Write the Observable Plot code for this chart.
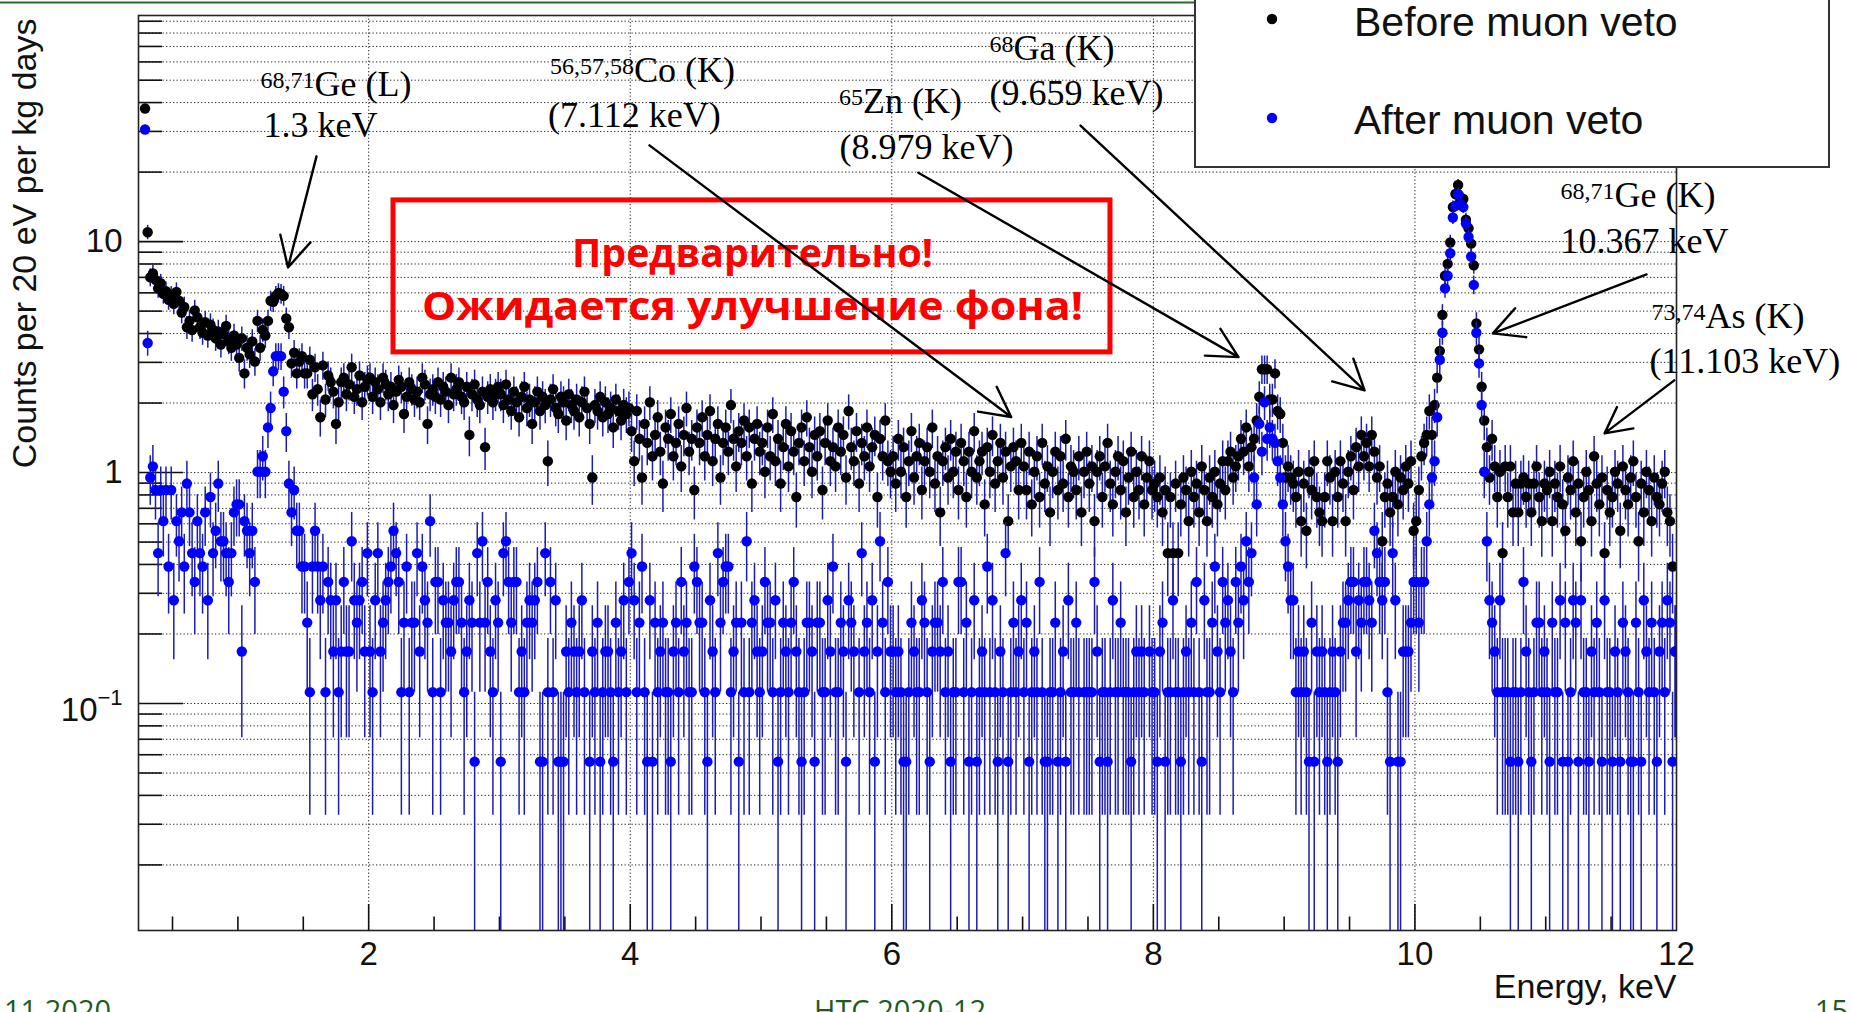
<!DOCTYPE html>
<html><head><meta charset="utf-8">
<script src="https://cdn.jsdelivr.net/npm/d3@7"></script>
<script src="https://cdn.jsdelivr.net/npm/@observablehq/plot@0.6"></script>
<style>
html,body{margin:0;padding:0;background:#fff;}
body{width:1852px;height:1012px;overflow:hidden;position:relative;}
#chart{position:absolute;left:0;top:0;}
#overlay{position:absolute;left:0;top:0;}
</style></head><body>
<div id="chart"></div>
<svg id="overlay" width="1852" height="1012"></svg>
<script>
// ---------- data: counts per 20 eV bin (histogram starts at 0.28 keV) ----------
const binStart = 0.28, binWidth = 0.02;
const countsToRate = 0.056; // one count -> counts per 20 eV per kg day

const black_0_1 = [673,196,125,130,122,112,118,106,109,100,104,96,108,99,88,93,76,81,74,90,84,76,72,80,70,78,74,68,73,64,71,77,66,62,70,64];
const blue_0_1  = [546,65,17,19,15,8,15,11,15,7,15,5,11,9,12,7,16,12,8,6,11,8,7,12,5,14,8,10,16,9,9,8,6,8,12,13];
const black_1_2 = [56,68,48,62,58,66,54,81,62,74,70,81,99,98,104,107,106,104,83,76,53,59,48,54,57,48,48,55,39,51,41,31,52,37,47,44,40,29,36,44,46,39,43,51,38,41,47,36,42,45];
const blue_1_2  = [13,3,11,10,8,10,6,18,18,21,18,28,34,49,57,57,57,40,27,16,12,15,10,10,7,7,4,2,7,10,7,5,7,2,6,5,3,5,2,3,6,3,3,9,5,4,5,6,3,8];
const black_2_3 = [46,38,44,41,36,46,43,39,42,35,40,45,42,32,38,44,41,37,40,36,46,43,29,39,41,38,44,37,42,40,35,46,39,41,44,38,36,42,26,39,43,37,35,40,23,38,41,36,39,42];
const blue_2_3  = [3,2,5,8,3,4,5,6,7,10,8,6,2,4,7,2,4,4,8,3,7,5,4,11,2,6,6,2,5,4,4,3,5,6,6,4,2,3,5,4,1,8,4,9,4,6,3,2,5,4];
const black_3_4 = [39,35,43,37,33,40,36,31,38,42,34,37,29,36,40,33,38,35,20,37,41,34,32,38,36,30,39,35,33,37,31,36,40,34,29,17,35,33,38,31,36,32,34,28,37,33,30,35,32,34];
const blue_3_4  = [1,8,9,6,4,6,6,2,3,2,4,5,4,5,6,1,1,8,2,6,2,5,1,1,1,3,2,4,3,2,3,5,2,0,1,3,2,4,1,2,3,3,2,1,4,2,3,5,2,6];
const black_4_5 = [27,20,33,25,17,29,24,36,21,26,31,22,16,28,25,32,21,24,29,19,26,34,22,25,15,28,24,31,21,26,33,20,25,29,17,24,28,22,35,25,19,27,24,30,21,28,16,25,29,22];
const blue_4_5  = [8,5,2,4,7,2,1,5,1,4,2,3,4,2,2,1,3,4,2,6,3,4,2,2,7,6,4,4,2,1,5,3,2,8,4,6,7,7,2,3,4,1,4,2,9,2,4,5,3,2];
const black_5_6 = [24,18,28,21,32,20,25,16,23,29,19,27,22,14,24,28,20,31,23,18,26,21,27,15,24,30,20,23,19,28,22,26,17,33,23,20,27,16,24,21,28,19,23,26,14,25,21,30,20,18];
const blue_5_6  = [3,6,4,4,2,5,1,2,4,3,2,4,6,3,2,1,2,4,4,3,1,4,4,2,2,5,3,7,2,2,4,3,1,5,4,3,0,2,8,3,4,2,5,1,3,9,4,2,6,3];
const black_6_7 = [21,16,25,18,23,14,20,27,17,21,24,15,20,23,18,28,16,21,12,20,23,17,25,18,22,15,24,20,14,22,18,27,17,20,22,13,23,18,26,16,20,24,17,22,11,19,23,20,15,24];
const blue_6_7  = [3,2,3,2,1,1,2,4,3,2,2,5,4,2,1,3,4,4,3,6,2,3,1,2,2,6,6,2,4,1,2,5,1,2,3,2,7,2,5,2,1,3,2,8,1,2,4,2,3,5];
const black_7_8 = [19,15,22,13,18,21,14,24,16,19,12,18,22,15,21,16,25,14,19,18,15,21,12,18,22,16,19,11,18,21,14,19,24,16,13,18,21,15,20,12,17,22,14,18,15,21,13,17,20,15];
const blue_7_8  = [2,4,1,2,3,2,6,2,1,1,2,2,4,1,2,3,1,5,2,2,4,2,0,2,2,2,2,6,3,1,2,2,1,2,5,2,2,4,2,2,2,1,2,3,2,3,2,0,3,2];
const black_8_9 = [16,14,17,12,15,8,14,8,16,8,13,17,15,11,18,14,16,12,19,15,11,17,14,18,13,16,20,15,20,22,17,19,21,25,22,28,19,23,25,30,38,50,50,50,37,37,48,33,32,24];
const blue_8_9  = [2,1,3,4,1,2,2,5,2,2,1,2,3,2,4,2,6,2,1,5,2,2,4,7,3,2,6,4,5,3,2,6,4,7,5,9,6,8,17,13,29,22,36,25,28,25,24,20,17,13];
const black_9_10 = [17,19,17,16,14,18,11,16,10,18,15,20,14,12,11,14,20,17,11,18,14,20,16,11,18,21,15,23,19,26,21,24,19,26,22,17,19,9,14,16,12,14,18,13,17,15,19,16,20,10];
const blue_9_10  = [9,7,5,5,2,3,2,3,2,1,4,1,3,2,3,2,1,2,3,2,1,3,4,4,5,6,6,3,5,4,6,6,5,4,10,8,6,5,6,2,1,8,5,1,1,3,3,3,4,6];
const black_10_11 = [11,15,21,24,26,33,26,35,46,60,86,127,143,177,252,287,314,273,273,222,204,175,141,79,61,42,30,23,17,25,19,14,18,8,19,14,19,12,16,12,16,17,14,16,12,16,19,14,11,16];
const blue_10_11  = [6,4,6,6,9,13,17,20,31,55,72,112,127,159,227,255,287,259,252,214,187,154,116,72,53,35,18,9,5,4,3,2,5,2,2,2,1,2,2,1,2,6,3,2,1,2,4,4,2,3];
const black_11_12 = [15,18,11,16,14,19,13,10,17,15,20,12,16,9,14,18,15,11,21,16,13,17,8,15,12,14,18,16,10,19,15,13,17,20,14,9,16,12,18,15,11,17,14,13,16,18,12,11,7,3];
const blue_11_12  = [2,1,4,2,2,5,1,4,1,2,5,4,1,5,2,2,1,3,2,4,2,1,5,2,2,1,3,2,1,4,3,2,1,1,4,2,1,5,3,2,4,2,1,3,4,2,5,4,1,3];

const seriesNames = ["Before muon veto", "After muon veto"];
const seriesColors = ["#000000", "#0000ff"];

// axis ticks
const xTickLabels = [2, 4, 6, 8, 10, 12];
const yTickLabels = [10, 1];

// peak annotations
const peakIsotopes = ["68,71", "56,57,58", "65", "68", "68,71", "73,74"];
const peakElements = ["Ge (L)", "Co (K)", "Zn (K)", "Ga (K)", "Ge (K)", "As (K)"];
const peakEnergies = ["1.3 keV", "(7.112 keV)", "(8.979 keV)", "(9.659 keV)", "10.367 keV", "(11.103 keV)"];
const nameAt   = [[1.586,42.9],[4.029,48.9],[5.780,35.9],[6.931,60.9],[11.526,14.06],[12.222,4.21]];
const energyAt = [[1.196,28.3],[3.372,31.2],[5.600,22.9],[6.747,38.9],[11.113,8.89],[11.794,2.688]];
const arrowFrom = [[1.601,23.4],[4.147,26.1],[6.203,19.88],[7.443,31.8],[11.771,7.21],[11.983,2.507]];
const arrowTo   = [[1.383,7.73],[6.913,1.739],[8.651,3.162],[9.615,2.269],[10.596,4.005],[11.450,1.478]];

// warning box
const warningLines = ["Предварительно!", "Ожидается улучшение фона!"];
const warningBox = {x1: 2.190, x2: 7.672, y1: 3.314, y2: 15.08};
const warningLineAt = [[4.935, 7.73], [4.935, 4.56]];
const warningWidths = [361, 661];

// ---------- build ----------
const blackCounts = [].concat(black_0_1, black_1_2, black_2_3, black_3_4, black_4_5, black_5_6, black_6_7, black_7_8, black_8_9, black_9_10, black_10_11, black_11_12);
const blueCounts  = [].concat(blue_0_1, blue_1_2, blue_2_3, blue_3_4, blue_4_5, blue_5_6, blue_6_7, blue_7_8, blue_8_9, blue_9_10, blue_10_11, blue_11_12);

function rows(counts) {
  return counts.map((c, i) => ({
    x: binStart + binWidth * (i + 0.5),
    c,
    y: c * countsToRate,
    lo: Math.max(c - Math.sqrt(c), 1e-4) * countsToRate,
    hi: (c + Math.sqrt(c)) * countsToRate
  })).filter(d => d.c > 0);
}
const blackRows = rows(blackCounts);
const blueRows = rows(blueCounts);

const W = 1852, H = 1012, mL = 138, mR = 176, mT = 15, mB = 82;
const xDomain = [0.24, 12], yDomain = [0.0104, 95.3];
const pxPerKeV = (W - mL - mR) / (xDomain[1] - xDomain[0]);
const pxPerDec = (H - mT - mB) / Math.log10(yDomain[1] / yDomain[0]);
const xIn = px => xDomain[0] + px / pxPerKeV;
const yUp = px => yDomain[0] * Math.pow(10, px / pxPerDec);

const xMajor = [2, 4, 6, 8, 10];
const xMinor = d3.range(0.5, 12, 0.5).filter(v => v % 2 !== 0);
const yMajor = [0.1, 1, 10];
const yMinor = [];
[0.01, 0.1, 1, 10].forEach(dec => { for (let k = 2; k <= 9; k++) { const v = dec * k; if (v > yDomain[0] && v < yDomain[1]) yMinor.push(v); } });
const yAll = yMajor.concat(yMinor);

const barColor = "#1c1cb4";
const serif = "'Liberation Serif', 'Times New Roman', serif";
const sans = "'Liberation Sans', Arial, Helvetica, sans-serif";

const annot = peakElements.map((n, i) => ({
  sup: peakIsotopes[i], name: n, energy: peakEnergies[i],
  nx: nameAt[i][0], ny: nameAt[i][1], ex: energyAt[i][0], ey: energyAt[i][1],
  ax1: arrowFrom[i][0], ay1: arrowFrom[i][1], ax2: arrowTo[i][0], ay2: arrowTo[i][1]
}));
const warn = warningLines.map((t, i) => ({t, x: warningLineAt[i][0], y: warningLineAt[i][1]}));

const chart = Plot.plot({
  width: W, height: H,
  marginLeft: mL, marginRight: mR, marginTop: mT, marginBottom: mB,
  x: {domain: xDomain, axis: null},
  y: {type: "log", domain: yDomain, axis: null},
  style: {fontFamily: sans, background: "#fff", overflow: "visible"},
  marks: [
    // grid
    Plot.ruleX(xMajor, {stroke: "#000", strokeWidth: 1, strokeDasharray: "1.3,2.2", strokeOpacity: 0.85}),
    Plot.ruleY(yAll, {stroke: "#000", strokeWidth: 1, strokeDasharray: "1.3,2.2", strokeOpacity: 0.85}),
    // ticks (inside frame)
    Plot.ruleY(yMajor, {x1: xDomain[0], x2: xIn(45), stroke: "#111", strokeWidth: 1.6}),
    Plot.ruleY(yMinor, {x1: xDomain[0], x2: xIn(24), stroke: "#111", strokeWidth: 1.6}),
    Plot.ruleX(xMajor, {y1: yDomain[0], y2: yUp(26), stroke: "#111", strokeWidth: 1.6}),
    Plot.ruleX(xMinor, {y1: yDomain[0], y2: yUp(13.5), stroke: "#111", strokeWidth: 1.6}),
    // before veto
    Plot.ruleX(blackRows, {x: "x", y1: "lo", y2: "hi", stroke: barColor, strokeWidth: 1.5, clip: true}),
    Plot.dot(blackRows, {x: "x", y: "y", r: 5.2, fill: seriesColors[0], clip: true}),
    // after veto
    Plot.ruleX(blueRows, {x: "x", y1: "lo", y2: "hi", stroke: barColor, strokeWidth: 1.5, clip: true}),
    Plot.dot(blueRows, {x: "x", y: "y", r: 5.2, fill: seriesColors[1], clip: true}),
    Plot.frame({stroke: "#222", strokeWidth: 1.6}),
    // tick labels
    Plot.text(xTickLabels, {x: d => d, text: d => String(d), frameAnchor: "bottom", lineAnchor: "bottom", dy: 34, fontSize: 33, fill: "#111"}),
    Plot.text(yTickLabels, {y: d => d, text: d => String(d), frameAnchor: "left", textAnchor: "end", dx: -16, fontSize: 33, fill: "#111"}),
    Plot.text([0.1], {y: d => d, text: () => "10", frameAnchor: "left", textAnchor: "end", dx: -41, dy: 7, fontSize: 33, fill: "#111"}),
    Plot.text([0.1], {y: d => d, text: () => "\u22121", frameAnchor: "left", textAnchor: "start", dx: -41, dy: -6, fontSize: 22, fill: "#111"}),
    // axis titles
    Plot.text(["Counts per 20 eV per kg days"], {frameAnchor: "top-left", rotate: -90, textAnchor: "end", lineAnchor: "middle", dx: -113, dy: 3, fontSize: 34, fill: "#111"}),
    Plot.text(["Energy, keV"], {frameAnchor: "bottom-right", textAnchor: "end", lineAnchor: "bottom", dy: 67, fontSize: 34, fill: "#111"}),
    // warning box
    Plot.rect([warningBox], {x1: "x1", x2: "x2", y1: "y1", y2: "y2", fill: "none", stroke: "#ff0000", strokeWidth: 5}),
    Plot.text(warn, {x: "x", y: "y", text: "t", textAnchor: "middle", lineAnchor: "bottom", fontSize: 39, fontWeight: "bold", fontFamily: "'Open Sans', 'Noto Sans', sans-serif", fill: "#ff0000"}),
    // arrows
    Plot.arrow(annot, {x1: "ax1", y1: "ay1", x2: "ax2", y2: "ay2", stroke: "#000", strokeWidth: 2.4, headLength: 21, headAngle: 55}),
    // annotations
    Plot.text(annot, {x: "nx", y: "ny", text: "sup", textAnchor: "end", lineAnchor: "bottom", dy: -8, fontSize: 24, fontFamily: serif, fill: "#000"}),
    Plot.text(annot, {x: "nx", y: "ny", text: "name", textAnchor: "start", lineAnchor: "bottom", fontSize: 36, fontFamily: serif, fill: "#000"}),
    Plot.text(annot, {x: "ex", y: "ey", text: "energy", textAnchor: "start", lineAnchor: "bottom", fontSize: 36, fontFamily: serif, fill: "#000"})
  ]
});
document.getElementById("chart").appendChild(chart);

// stretch the warning lines to their measured widths
d3.select(chart).selectAll("text").each(function() {
  const i = warningLines.indexOf(this.textContent);
  if (i >= 0) { this.setAttribute("textLength", warningWidths[i]); this.setAttribute("lengthAdjust", "spacingAndGlyphs"); }
});

// ---------- legend and slide furniture ----------
const ov = d3.select("#overlay");
ov.append("line").attr("x1", 0).attr("x2", 1829).attr("y1", 2.5).attr("y2", 2.5).attr("stroke", "#2c6a2c").attr("stroke-width", 2);
ov.append("rect").attr("x", 1195).attr("y", -6).attr("width", 634).attr("height", 173)
  .attr("fill", "#fff").attr("stroke", "#333").attr("stroke-width", 2);
const legendY = [[19, 36], [118, 134]];
seriesNames.forEach((name, i) => {
  ov.append("circle").attr("cx", 1272).attr("cy", legendY[i][0]).attr("r", 5.2).attr("fill", seriesColors[i]);
  ov.append("text").attr("x", 1354).attr("y", legendY[i][1]).attr("font-family", sans).attr("font-size", 41)
    .attr("fill", "#111").text(name);
});
const footer = [["11.2020", 4, "start"], ["НТС 2020-12", 900, "middle"], ["15", 1848, "end"]];
footer.forEach(([t, x, a]) => {
  ov.append("text").attr("x", x).attr("y", 1021).attr("text-anchor", a).attr("font-family", "'Open Sans', 'Noto Sans', sans-serif")
    .attr("font-size", 29).attr("fill", "#1f5a1f").text(t);
});
</script></body></html>
